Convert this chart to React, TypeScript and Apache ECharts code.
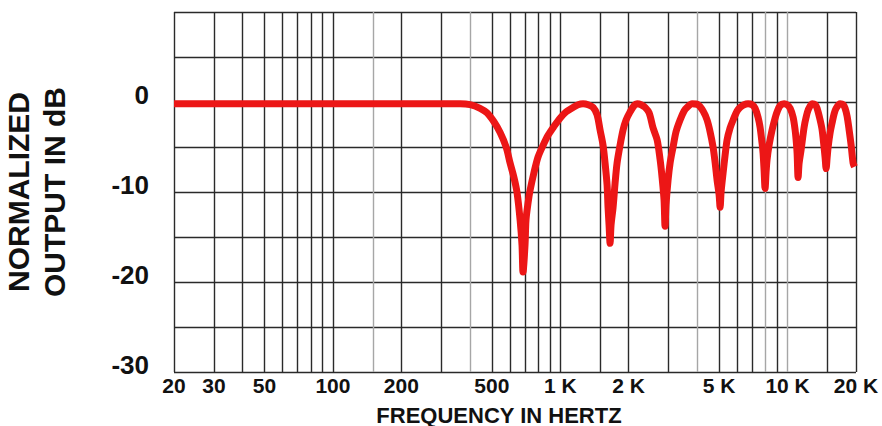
import { useEffect, useRef } from 'react';
import * as echarts from 'echarts';

// frequency response (Hz / dB)
const responseHz = [
  20, 100, 250, 363,
  401, 444, 476, 511, 544, 578, 602, 626, 646, 666, 679, 686,
  700, 707, 722, 737, 767, 799, 841, 884, 939, 998, 1061, 1139, 1198, 1260,
  1326, 1395, 1452, 1497, 1543, 1575, 1607, 1623, 1640, 1657,
  1673, 1708, 1743, 1778, 1833, 1890, 1948, 2029, 2113, 2178,
  2268, 2362, 2460, 2562, 2668, 2750, 2806, 2862, 2891,
  2920, 2980, 3042, 3136, 3232, 3366, 3506, 3614, 3802,
  4040, 4250, 4426, 4562, 4702, 4800, 4898, 4998, 5050,
  5100, 5204, 5312, 5420, 5586, 5760, 5998, 6184, 6438, 6704,
  6982, 7196, 7418, 7570, 7726, 7804, 7884, 7964,
  8044, 8126, 8292, 8548, 8812, 8994, 9272, 9656,
  9954, 10262, 10578, 10794, 10904, 11014, 11126,
  11240, 11470, 11824, 12066, 12314, 12824,
  13220, 13490, 13906, 14192, 14482, 14630, 14778,
  14928, 15080, 15388, 15704, 16026, 16354, 17030,
  17556, 17914, 18280, 18656, 19038, 19426, 19700,
];
const responseDb = [
  -0.2, -0.2, -0.2, -0.2,
  -0.3, -0.7, -1.2, -2.2, -3.4, -5.0, -6.8, -8.4, -10.1, -13.1, -15.9, -18.9,
  -15.9, -13.1, -11.2, -9.8, -7.8, -6.1, -4.8, -3.7, -2.7, -1.8, -1.1, -0.6, -0.3, -0.2,
  -0.3, -0.6, -1.4, -3.1, -4.8, -6.8, -9.2, -11.7, -13.7, -15.7,
  -13.7, -11.7, -9.0, -6.8, -4.8, -3.1, -2.0, -1.1, -0.4, -0.2,
  -0.3, -0.6, -1.2, -2.9, -4.2, -6.4, -8.4, -10.9, -13.8,
  -11.4, -8.7, -6.8, -5.0, -3.3, -2.0, -1.0, -0.6, -0.2,
  -0.3, -1.0, -2.0, -3.3, -5.0, -6.7, -8.7, -10.3, -11.7,
  -10.0, -7.9, -5.9, -4.2, -2.9, -2.0, -1.0, -0.6, -0.3, -0.2,
  -0.3, -0.7, -1.7, -2.8, -4.6, -5.7, -7.6, -9.6,
  -7.8, -6.4, -4.8, -3.1, -1.8, -1.1, -0.4, -0.2,
  -0.3, -0.7, -1.7, -3.1, -4.2, -5.7, -8.4,
  -6.8, -5.3, -2.8, -1.7, -0.9, -0.2,
  -0.3, -0.7, -2.0, -3.1, -5.1, -6.2, -7.4,
  -6.2, -5.0, -3.4, -2.3, -1.3, -0.7, -0.2,
  -0.3, -0.7, -1.6, -3.1, -4.8, -6.8, -7.2,
];

// graph paper
const gridHz = [
  20, 30, 40, 50, 60, 70, 80, 90, 100, 150, 200, 300, 400, 500, 600, 700, 800, 900,
  1000, 1500, 2000, 3000, 4000, 5000, 6000, 7000, 8000, 9000, 10000, 15000, 20000,
];
const faintHz = [150, 400, 4000, 8000, 10000];
const tickHz = [20, 30, 50, 100, 200, 500, 1000, 2000, 5000, 10000, 20000];
const tickText = ['20', '30', '50', '100', '200', '500', '1 K', '2 K', '5 K', '10 K', '20 K'];
const dbLabels = [0, -10, -20, -30];

const font = '"Liberation Sans", Arial, Helvetica, sans-serif';
const ink = '#111';

export default function App() {
  const chartRef = useRef<HTMLDivElement>(null);

  useEffect(() => {
    if (!chartRef.current) return;
    const chart = echarts.init(chartRef.current, undefined, { renderer: 'svg' });

    const paperLines = gridHz.map((hz) => {
      const idx = tickHz.indexOf(hz);
      return {
        xAxis: hz,
        lineStyle: {
          color: faintHz.includes(hz) ? '#a6a6a6' : '#2a2a2a',
          width: 1.4,
          type: 'solid' as const,
        },
        label: { show: idx >= 0, formatter: idx >= 0 ? tickText[idx] : '' },
      };
    });

    chart.setOption({
      animation: false,
      backgroundColor: '#fff',
      grid: { left: 174, right: 26, top: 12, bottom: 54, outerBoundsMode: 'none' },
      xAxis: {
        type: 'log',
        logBase: 10,
        min: 20,
        max: 20000,
        axisLine: { show: false },
        axisTick: { show: false },
        axisLabel: { show: false },
        splitLine: { show: false },
        name: 'FREQUENCY IN HERTZ',
        nameLocation: 'middle',
        nameGap: 32,
        nameTextStyle: {
          fontSize: 22,
          fontWeight: 'bold',
          fontFamily: font,
          color: ink,
          padding: [0, 32, 0, 0],
        },
      },
      yAxis: {
        type: 'value',
        min: -30,
        max: 10,
        interval: 5,
        axisLine: { show: false },
        axisTick: { show: false },
        splitLine: { lineStyle: { color: '#2a2a2a', width: 1.4 } },
        axisLabel: {
          formatter: (v: number) => (dbLabels.includes(v) ? String(v) : ''),
          fontSize: 26,
          fontWeight: 'bold',
          fontFamily: font,
          color: ink,
          margin: 25,
          verticalAlign: 'bottom',
          lineHeight: 14,
        },
        name: 'NORMALIZED\nOUTPUT IN dB',
        nameLocation: 'middle',
        nameRotate: 90,
        nameGap: 102,
        nameTextStyle: {
          fontSize: 30,
          fontWeight: 'bold',
          fontFamily: font,
          color: ink,
          lineHeight: 36,
        },
      },
      series: [
        {
          type: 'line',
          data: [],
          silent: true,
          markLine: {
            silent: true,
            z: 1,
            symbol: ['none', 'none'],
            animation: false,
            emphasis: { disabled: true },
            label: {
              position: 'start',
              distance: 3,
              color: ink,
              fontSize: 21,
              fontWeight: 'bold',
              fontFamily: font,
            },
            data: paperLines,
          },
        },
        {
          type: 'line',
          z: 10,
          silent: true,
          showSymbol: false,
          symbol: 'none',
          smooth: 0.3,
          data: responseHz.map((hz, i) => [hz, responseDb[i]]),
          lineStyle: { color: '#ec1616', width: 7 },
        },
      ],
    });

    return () => chart.dispose();
  }, []);

  return (
    <div
      ref={chartRef}
      style={{ position: 'fixed', left: 0, top: 0, width: 882, height: 426, background: '#fff' }}
    />
  );
}
